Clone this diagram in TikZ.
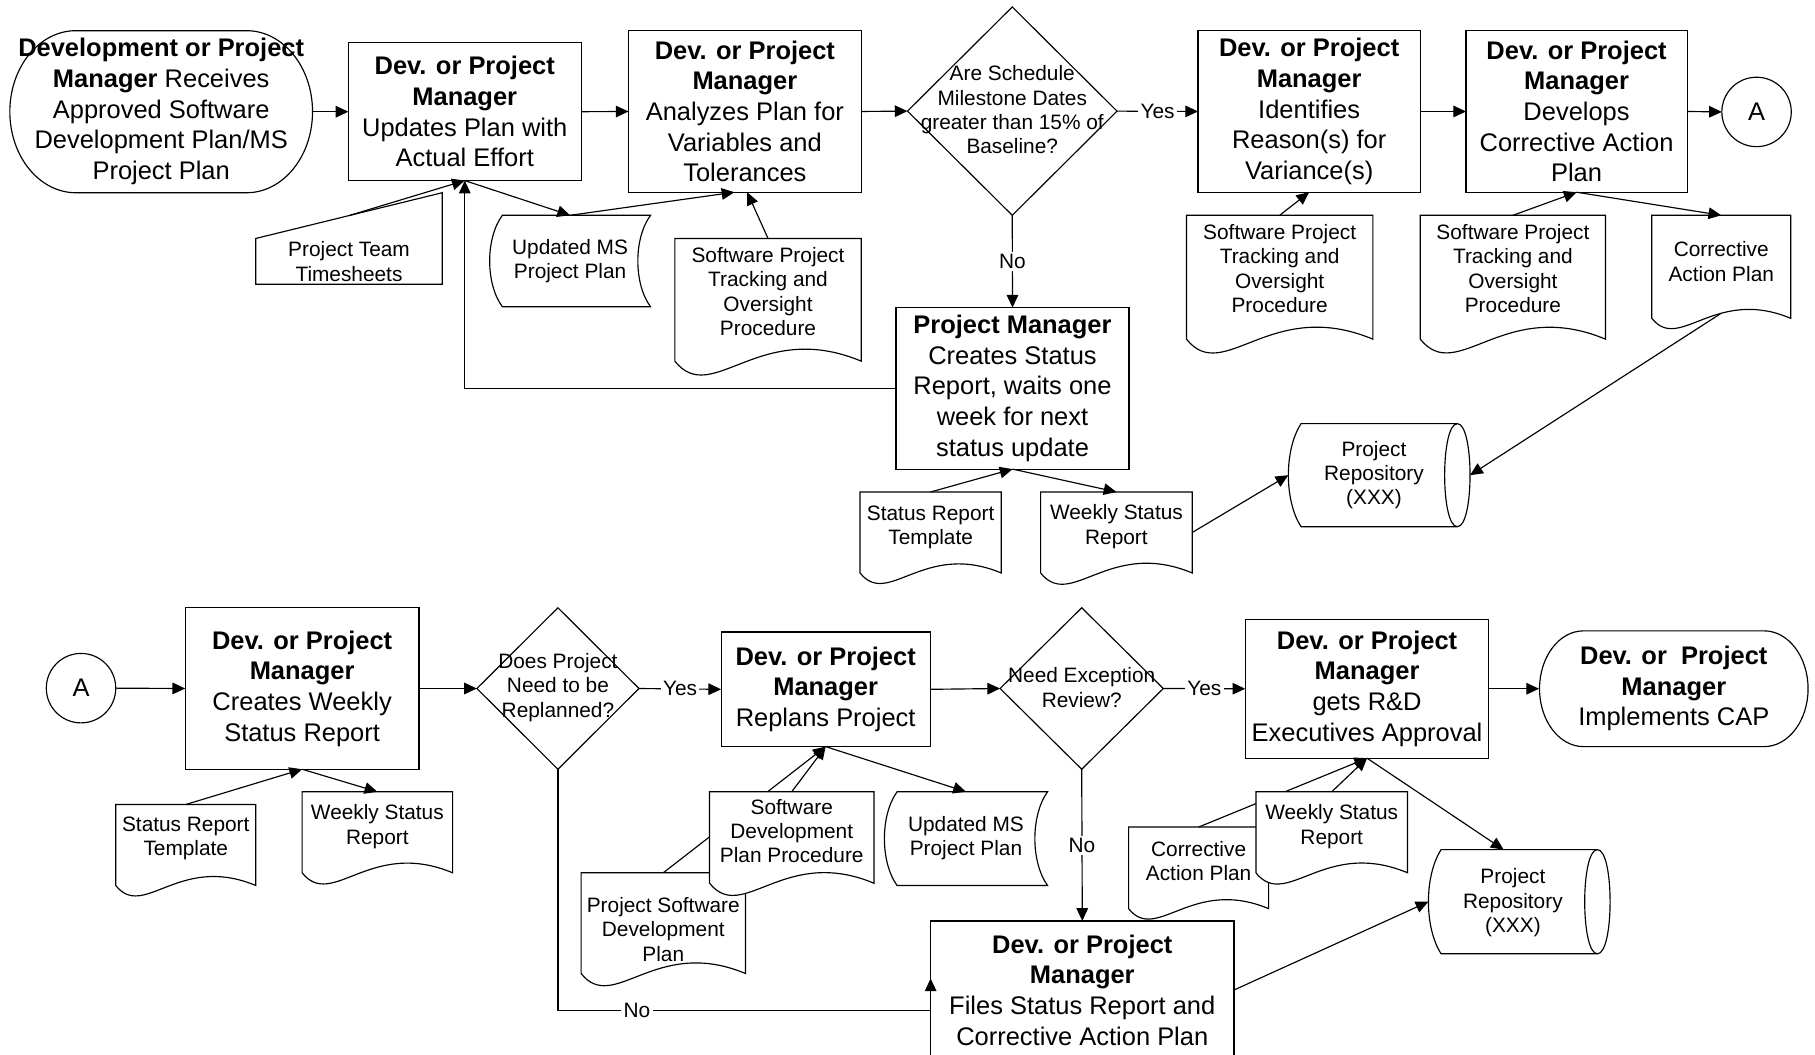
\documentclass[tikz,border=0pt]{standalone}
\usepackage{fontspec}
\setmainfont{Liberation Sans}
\usetikzlibrary{arrows.meta,shapes.geometric,calc}
\tikzset{
 shp/.style={draw, fill=white, line width=0.5pt},
 box/.style={draw, fill=white, line width=0.5pt, align=center, inner sep=0pt, outer sep=0pt, font=\fontsize{11}{13.25}\selectfont},
 maint/.style={align=center, inner sep=0pt, font=\fontsize{11}{13.25}\selectfont},
 smallt/.style={align=center, inner sep=0pt, font=\fontsize{9}{10.5}\selectfont},
 anc/.style={inner sep=0pt, outer sep=0pt},
 dia/.style={draw, fill=white, diamond, inner sep=0pt, outer sep=0pt, line width=0.5pt},
 circ/.style={draw, fill=white, circle, inner sep=0pt, outer sep=0pt, minimum size=30pt, line width=0.5pt, font=\fontsize{11}{13.25}\selectfont},
 arr/.style={line width=0.5pt, -{Triangle[length=5.5pt,width=5pt]}},
 lbl/.style={fill=white, inner sep=1pt, font=\fontsize{9}{10.5}\selectfont},
}
% stadium: x1,y1,x2,y2,rx
\newcommand{\stadium}[5]{%
 \draw[shp] ({#1+#5},#2) -- ({#3-#5},#2)
  .. controls ({#3-#5+0.5523*#5},#2) and (#3,{(#2+#4)/2-0.5523*(#4-#2)/2}) .. (#3,{(#2+#4)/2})
  .. controls (#3,{(#2+#4)/2+0.5523*(#4-#2)/2}) and ({#3-#5+0.5523*#5},#4) .. ({#3-#5},#4)
  -- ({#1+#5},#4)
  .. controls ({#1+#5-0.5523*#5},#4) and (#1,{(#2+#4)/2+0.5523*(#4-#2)/2}) .. (#1,{(#2+#4)/2})
  .. controls (#1,{(#2+#4)/2-0.5523*(#4-#2)/2}) and ({#1+#5-0.5523*#5},#2) .. ({#1+#5},#2) -- cycle;}
% document: name,x1,y1,x2,y2
\newcommand{\docu}[5]{%
 \draw[shp] (#2,#5) -- (#2,#3) -- (#4,#3) -- (#4,#5)
  .. controls ({#2+0.45*(#4-#2)},{#5-0.23*(#4-#2)}) and ({#2+0.2*(#4-#2)},{#5+0.25*(#4-#2)}) .. (#2,#5) -- cycle;
 \node[anc, minimum width={(#4-#2)*0.5pt}, minimum height={(#5-#3)*0.5pt}] (#1) at ({(#2+#4)/2},{(#3+#5)/2}) {};}
% stored data: name,x1,y1,x2,y2,e
\newcommand{\stored}[6]{%
 \draw[shp] ({#2+#6},#3) -- (#4,#3)
  .. controls ({#4-1.33*#6},{#3+(#5-#3)/4}) and ({#4-1.33*#6},{#5-(#5-#3)/4}) .. (#4,#5)
  -- ({#2+#6},#5)
  .. controls ({#2+#6-1.33*#6},{#5-(#5-#3)/4}) and ({#2+#6-1.33*#6},{#3+(#5-#3)/4}) .. ({#2+#6},#3) -- cycle;
 \node[anc, minimum width={(#4-#2)*0.5pt}, minimum height={(#5-#3)*0.5pt}] (#1) at ({(#2+#4)/2},{(#3+#5)/2}) {};}
% direct access storage: name,x1,y1,x2,y2,e
\newcommand{\repo}[6]{%
 \draw[shp] ({#2+#6},#3) -- ({#4-#6},#3)
  .. controls ({#4-#6+1.33*#6},#3) and ({#4-#6+1.33*#6},#5) .. ({#4-#6},#5)
  -- ({#2+#6},#5)
  .. controls ({#2+#6-1.33*#6},{#5-(#5-#3)/4}) and ({#2+#6-1.33*#6},{#3+(#5-#3)/4}) .. ({#2+#6},#3) -- cycle;
 \draw[line width=0.5pt] ({#4-#6},#3) .. controls ({#4-#6-1.33*#6},#3) and ({#4-#6-1.33*#6},#5) .. ({#4-#6},#5);
 \node[anc, minimum width={(#4-#2)*0.5pt}, minimum height={(#5-#3)*0.5pt}] (#1) at ({(#2+#4)/2},{(#3+#5)/2}) {};}

\begin{document}
\begin{tikzpicture}[x=0.5pt,y=-0.5pt]
\useasboundingbox (0,0) rectangle (1568,911);

%%% top row
\stadium{8.5}{26.5}{270}{166.5}{57}
\node[maint, minimum width=130.75pt, minimum height=70pt] (start) at (139.25,96.5)
 {\textbf{Development or Project}\\\textbf{Manager} Receives\\Approved Software\\Development Plan/MS\\Project Plan};
\node[box, minimum width=100.5pt, minimum height=59.5pt] (b2) at (401.5,96.5)
 {\textbf{Dev. or Project}\\\textbf{Manager}\\Updates Plan with\\Actual Effort};
\node[box, minimum width=100.5pt, minimum height=69.75pt] (b3) at (643.5,96.3)
 {\textbf{Dev. or Project}\\\textbf{Manager}\\Analyzes Plan for\\Variables and\\Tolerances};
\node[dia, minimum width=90.5pt, minimum height=90pt] (d1) at (874.5,96) {};
\node[smallt] (d1t) at (874.5,95) {Are Schedule\\Milestone Dates\\greater than 15\% of\\Baseline?};
\node[box, minimum width=96pt, minimum height=69.75pt] (b5) at (1131,96.3)
 {\textbf{Dev. or Project}\\\textbf{Manager}\\Identifies\\Reason(s) for\\Variance(s)};
\node[box, minimum width=95.5pt, minimum height=69.75pt] (b6) at (1362,96.3)
 {\textbf{Dev. or Project}\\\textbf{Manager}\\Develops\\Corrective Action\\Plan};
\node[circ] (A1) at (1517.5,96.7) {A};
\node[box, minimum width=100.7pt, minimum height=69.75pt] (b7) at (874.7,335.5)
 {\textbf{Project Manager}\\Creates Status\\Report, waits one\\week for next\\status update};

\draw[arr] (start.east) -- (b2.west);
\draw[arr] (b2.east) -- (b3.west);
\draw[arr] (b3.east) -- (d1.west);
\draw[arr] (d1.east) -- node[lbl]{Yes} (b5.west);
\draw[arr] (b5.east) -- (b6.west);
\draw[arr] (b6.east) -- (A1.west);
\draw[arr] (d1.south) -- node[lbl]{No} (b7.north);
\draw[arr] (b7.west) -| (b2.south);

% top documents
\draw[shp] (221,206) -- (382,166.5) -- (382,245.5) -- (221,245.5) -- cycle;
\node[anc, minimum width=80.5pt, minimum height=39.5pt] (ts) at (301.5,206) {};
\node[smallt] (ts-t) at (301.5,226) {Project Team\\Timesheets};
\coordinate (ts-top) at (301.5,186.25);
\draw[arr] (ts-top) -- (b2.south);

\stored{ums1}{423}{186}{562}{265}{11}
\node[smallt] (ums1-t) at (492.5,225.5) {Updated MS\\Project Plan};
\draw[arr] (b2.south) -- (ums1.north);
\draw[arr] (ums1.north) -- ([xshift=-4.5pt]b3.south);

\docu{spt1}{583}{206}{744}{312}
\node[smallt] (spt1-t) at (663.5,252) {Software Project\\Tracking and\\Oversight\\Procedure};
\draw[arr] (spt1.north) -- ([xshift=1pt]b3.south);

\docu{spt2}{1025}{186}{1186}{293}
\node[smallt] (spt2-t) at (1105.5,232) {Software Project\\Tracking and\\Oversight\\Procedure};
\draw[arr] (spt2.north) -- (b5.south);

\docu{spt3}{1227}{186}{1387}{293}
\node[smallt] (spt3-t) at (1307,232) {Software Project\\Tracking and\\Oversight\\Procedure};
\draw[arr] (spt3.north) -- (b6.south);

\docu{cap1}{1427}{186}{1547}{275}
\node[smallt] (cap1-t) at (1487,226) {Corrective\\Action Plan};
\draw[arr] (b6.south) -- (cap1.north);

\docu{srt1}{743}{425}{865}{495}
\node[smallt] (srt1-t) at (804,455.5) {Status Report\\Template};
\draw[arr] (srt1.north) -- (b7.south);

\docu{wsr1}{899}{425}{1030}{495}
\node[smallt] (wsr1-t) at (964.5,455) {Weekly Status\\Report};
\draw[arr] (b7.south) -- (wsr1.north);

\repo{rep1}{1113}{366}{1270}{455}{11}
\node[smallt] (rep1-t) at (1187,410.5) {Project\\Repository\\(XXX)};
\draw[arr] (wsr1.east) -- (rep1.west);
\draw[arr] ([yshift=2.2pt]cap1.south) -- (rep1.east);

%%% bottom row
\node[circ] (A2) at (70,594.5) {A};
\node[box, minimum width=101pt, minimum height=69.75pt] (b8) at (261,594.8)
 {\textbf{Dev. or Project}\\\textbf{Manager}\\Creates Weekly\\Status Report};
\node[dia, minimum width=70pt, minimum height=69.75pt] (d2) at (482,594.8) {};
\node[smallt] (d2t) at (482,594) {Does Project\\Need to be\\Replanned?};
\node[box, minimum width=90.3pt, minimum height=49.5pt] (b9) at (713.3,595.5)
 {\textbf{Dev. or Project}\\\textbf{Manager}\\Replans Project};
\node[dia, minimum width=70.5pt, minimum height=69.75pt] (d3) at (934.5,594.8) {};
\node[smallt] (d3t) at (934.5,594) {Need Exception\\Review?};
\node[box, minimum width=105.2pt, minimum height=60pt] (b10) at (1181,595)
 {\textbf{Dev. or Project}\\\textbf{Manager}\\gets R\&D\\Executives Approval};
\stadium{1330}{545}{1562}{645}{38}
\node[maint, minimum width=116pt, minimum height=50pt] (term2) at (1446,595)
 {\textbf{Dev. or\ \ Project}\\\textbf{Manager}\\Implements CAP};
\node[box, minimum width=131pt, minimum height=59.7pt] (b11) at (935,855.3)
 {\textbf{Dev. or Project}\\\textbf{Manager}\\Files Status Report and\\Corrective Action Plan};

\draw[arr] (A2.east) -- (b8.west);
\draw[arr] (b8.east) -- (d2.west);
\draw[arr] (d2.east) -- node[lbl]{Yes} (b9.west);
\draw[arr] (b9.east) -- (d3.west);
\draw[arr] (d3.east) -- node[lbl]{Yes} (b10.west);
\draw[arr] (b10.east) -- (term2.west);
\draw[arr] (d3.south) -- node[lbl]{No} (b11.north);
\draw[arr] (d2.south) |- node[lbl,pos=0.606]{No} ([yshift=-9pt]b11.west) -- ([yshift=5pt]b11.west);

% bottom documents
\docu{srt2}{100}{695}{221}{765}
\node[smallt] (srt2-t) at (160.5,724.5) {Status Report\\Template};
\draw[arr] (srt2.north) -- (b8.south);

\docu{wsr2}{261}{684}{391}{754}
\node[smallt] (wsr2-t) at (326,714) {Weekly Status\\Report};
\draw[arr] (b8.south) -- (wsr2.north);

\docu{psdp}{502}{754}{644}{841}
\draw[arr] (psdp.north) -- (b9.south);
\docu{sdp}{613}{684}{755}{763}
\node[smallt] (sdp-t) at (684,718) {Software\\Development\\Plan Procedure};
\node[smallt] (psdp-t) at (573,803) {Project Software\\Development\\Plan};
\draw[arr] (sdp.north) -- (b9.south);

\stored{ums2}{764}{684}{905}{765}{11}
\node[smallt] (ums2-t) at (834.5,724) {Updated MS\\Project Plan};
\draw[arr] (b9.south) -- (ums2.north);

\docu{cap2}{975}{714.5}{1096}{785}
\node[smallt] (cap2-t) at (1035.5,744) {Corrective\\Action Plan};
\draw[arr] (cap2.north) -- (b10.south);
\docu{wsr3}{1085}{684}{1216}{754}
\node[smallt] (wsr3-t) at (1150.5,714) {Weekly Status\\Report};
\draw[arr] (wsr3.north) -- (b10.south);

\repo{rep2}{1234}{734}{1391}{824}{11}
\node[smallt] (rep2-t) at (1307,780) {Project\\Repository\\(XXX)};
\draw[arr] (b10.south) -- ([xshift=-6.75pt]rep2.north);
\draw[arr] (b11.east) -- (rep2.west);
\end{tikzpicture}
\end{document}
